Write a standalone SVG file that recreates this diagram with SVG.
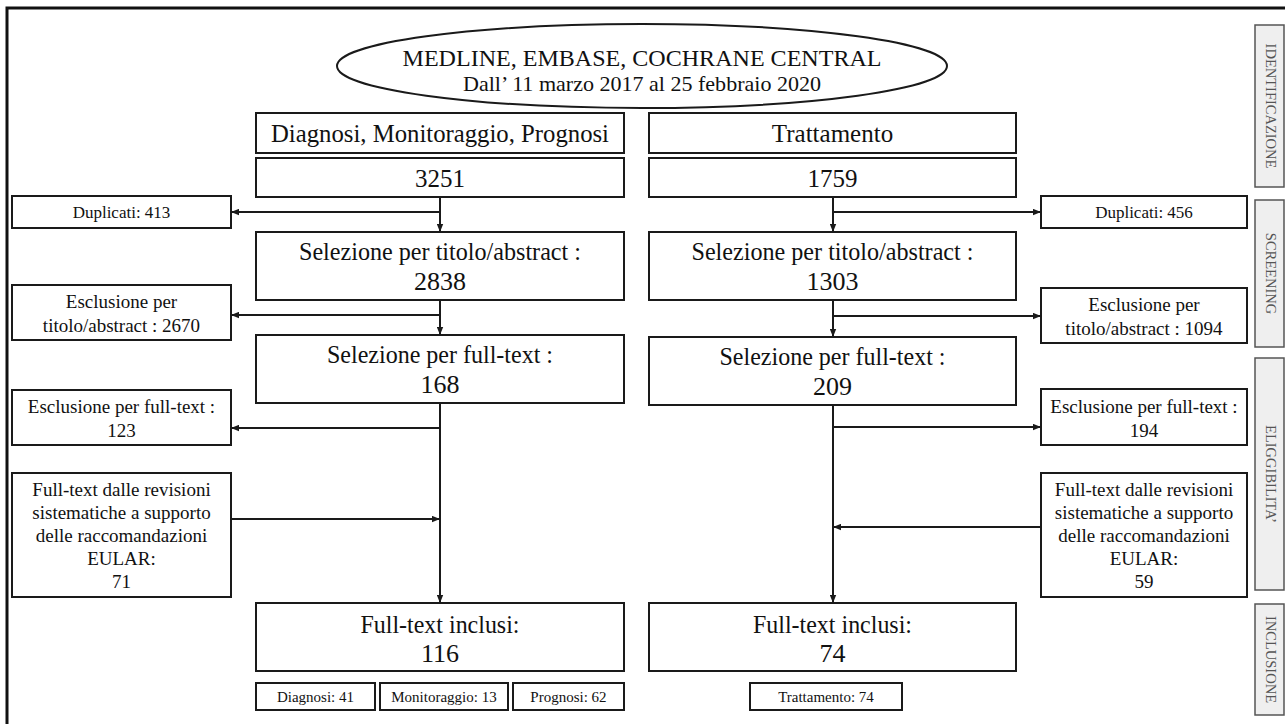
<svg xmlns="http://www.w3.org/2000/svg" width="1285" height="724" viewBox="0 0 1285 724">
<defs>
<marker id="ah" viewBox="0 0 10 8" refX="10" refY="4" markerWidth="8" markerHeight="7" markerUnits="userSpaceOnUse" orient="auto">
<path d="M0,0 L10,4 L0,8 Z" fill="#1a1a1a"/>
</marker>
<style>
.bx{fill:#fff;stroke:#1a1a1a;stroke-width:2}
.lb{fill:#efefef;stroke:#555;stroke-width:1.5}
.t{font-family:"Liberation Serif","Times New Roman",serif;fill:#111;text-anchor:middle}
.big{font-size:26px}
.hd{font-size:25px}
.sd{font-size:19px}
.dp{font-size:17px}
.sm{font-size:15px}
.lt{font-family:"Liberation Serif","Times New Roman",serif;font-size:14.5px;fill:#555;text-anchor:middle}
.cn{fill:none;stroke:#1a1a1a;stroke-width:2}
.ar{marker-end:url(#ah)}
</style>
</defs>
<rect width="1285" height="724" fill="#fff"/>
<path d="M7,724 V8 H1285" fill="none" stroke="#111" stroke-width="3"/>

<g id="source">
<ellipse cx="642" cy="66" rx="305" ry="42" fill="#fff" stroke="#1a1a1a" stroke-width="2"/>
<text class="t" x="642" y="66" font-size="23" textLength="479" lengthAdjust="spacingAndGlyphs">MEDLINE, EMBASE, COCHRANE CENTRAL</text>
<text class="t" x="642" y="91" font-size="21" textLength="358" lengthAdjust="spacingAndGlyphs">Dall’ 11 marzo 2017 al 25 febbraio 2020</text>
</g>

<g id="hdr-left"><rect class="bx" x="256" y="113" width="368" height="40"/><text class="t hd" x="440" y="142" textLength="338" lengthAdjust="spacingAndGlyphs">Diagnosi, Monitoraggio, Prognosi</text></g>
<g id="hdr-right"><rect class="bx" x="649" y="113" width="367" height="40"/><text class="t hd" x="832.5" y="142">Trattamento</text></g>

<g id="n-left"><rect class="bx" x="256" y="158" width="368" height="39"/><text class="t hd" x="440" y="187">3251</text></g>
<g id="n-right"><rect class="bx" x="649" y="158" width="367" height="39"/><text class="t hd" x="832.5" y="187">1759</text></g>

<g id="dup-left"><rect class="bx" x="12" y="196" width="219" height="32"/><text class="t dp" x="121.5" y="218">Duplicati: 413</text></g>
<g id="dup-right"><rect class="bx" x="1041" y="196" width="206" height="32"/><text class="t dp" x="1144" y="218">Duplicati: 456</text></g>

<g id="sel-ta-left"><rect class="bx" x="256" y="232" width="368" height="68"/><text class="t big" x="440" y="260" textLength="282" lengthAdjust="spacingAndGlyphs">Selezione per titolo/abstract :</text><text class="t big" x="440" y="290">2838</text></g>
<g id="sel-ta-right"><rect class="bx" x="649" y="232" width="367" height="68"/><text class="t big" x="832.5" y="260" textLength="282" lengthAdjust="spacingAndGlyphs">Selezione per titolo/abstract :</text><text class="t big" x="832.5" y="290">1303</text></g>

<g id="exc-ta-left"><rect class="bx" x="12" y="285" width="219" height="55"/><text class="t sd" x="121.5" y="308">Esclusione per</text><text class="t sd" x="121.5" y="332">titolo/abstract : 2670</text></g>
<g id="exc-ta-right"><rect class="bx" x="1041" y="288" width="206" height="55"/><text class="t sd" x="1144" y="311">Esclusione per</text><text class="t sd" x="1144" y="335">titolo/abstract : 1094</text></g>

<g id="sel-ft-left"><rect class="bx" x="256" y="335" width="368" height="68"/><text class="t big" x="440" y="363" textLength="226" lengthAdjust="spacingAndGlyphs">Selezione per full-text :</text><text class="t big" x="440" y="393">168</text></g>
<g id="sel-ft-right"><rect class="bx" x="649" y="337" width="367" height="68"/><text class="t big" x="832.5" y="365" textLength="226" lengthAdjust="spacingAndGlyphs">Selezione per full-text :</text><text class="t big" x="832.5" y="395">209</text></g>

<g id="exc-ft-left"><rect class="bx" x="12" y="390" width="219" height="55"/><text class="t sd" x="121.5" y="413">Esclusione per full-text :</text><text class="t sd" x="121.5" y="437">123</text></g>
<g id="exc-ft-right"><rect class="bx" x="1041" y="389" width="206" height="56"/><text class="t sd" x="1144" y="413">Esclusione per full-text :</text><text class="t sd" x="1144" y="437">194</text></g>

<g id="eular-left"><rect class="bx" x="12" y="473" width="219" height="124"/>
<text class="t sd" x="121.5" y="496">Full-text dalle revisioni</text><text class="t sd" x="121.5" y="519">sistematiche a supporto</text><text class="t sd" x="121.5" y="542">delle raccomandazioni</text><text class="t sd" x="121.5" y="565">EULAR:</text><text class="t sd" x="121.5" y="588">71</text></g>
<g id="eular-right"><rect class="bx" x="1041" y="473" width="206" height="124"/>
<text class="t sd" x="1144" y="496">Full-text dalle revisioni</text><text class="t sd" x="1144" y="519">sistematiche a supporto</text><text class="t sd" x="1144" y="542">delle raccomandazioni</text><text class="t sd" x="1144" y="565">EULAR:</text><text class="t sd" x="1144" y="588">59</text></g>

<g id="inc-left"><rect class="bx" x="256" y="603" width="368" height="68"/><text class="t big" x="440" y="633" textLength="159" lengthAdjust="spacingAndGlyphs">Full-text inclusi:</text><text class="t big" x="440" y="662">116</text></g>
<g id="inc-right"><rect class="bx" x="649" y="603" width="367" height="68"/><text class="t big" x="832.5" y="633" textLength="159" lengthAdjust="spacingAndGlyphs">Full-text inclusi:</text><text class="t big" x="832.5" y="662">74</text></g>

<g id="sub-diag"><rect class="bx" x="256" y="683" width="119" height="27"/><text class="t sm" x="315.5" y="702">Diagnosi: 41</text></g>
<g id="sub-mon"><rect class="bx" x="380" y="683" width="128" height="27"/><text class="t sm" x="444" y="702">Monitoraggio: 13</text></g>
<g id="sub-prog"><rect class="bx" x="513" y="683" width="111" height="27"/><text class="t sm" x="568.5" y="702">Prognosi: 62</text></g>
<g id="sub-tratt"><rect class="bx" x="750" y="683" width="152" height="27"/><text class="t sm" x="826" y="702">Trattamento: 74</text></g>

<g id="lab-id"><rect class="lb" x="1255" y="25" width="29" height="162"/><text class="lt" transform="translate(1266,106) rotate(90)">IDENTIFICAZIONE</text></g>
<g id="lab-scr"><rect class="lb" x="1255" y="200" width="29" height="147"/><text class="lt" transform="translate(1266,273.5) rotate(90)">SCREENING</text></g>
<g id="lab-eli"><rect class="lb" x="1255" y="358" width="29" height="232"/><text class="lt" transform="translate(1266,474) rotate(90)">ELIGGIBILITA’</text></g>
<g id="lab-inc"><rect class="lb" x="1255" y="604" width="29" height="111"/><text class="lt" transform="translate(1266,659.5) rotate(90)">INCLUSIONE</text></g>

<g id="connectors">
<path class="cn ar" d="M440,197 V232"/>
<path class="cn ar" d="M440,212 H231"/>
<path class="cn ar" d="M440,300 V335"/>
<path class="cn ar" d="M440,315 H231"/>
<path class="cn ar" d="M440,403 V603"/>
<path class="cn ar" d="M440,428 H231"/>
<path class="cn ar" d="M231,519 H440"/>
<path class="cn ar" d="M833,197 V232"/>
<path class="cn ar" d="M833,212 H1041"/>
<path class="cn ar" d="M833,300 V337"/>
<path class="cn ar" d="M833,316 H1041"/>
<path class="cn ar" d="M833,405 V603"/>
<path class="cn ar" d="M833,427 H1041"/>
<path class="cn ar" d="M1041,527 H833"/>
</g>
</svg>
